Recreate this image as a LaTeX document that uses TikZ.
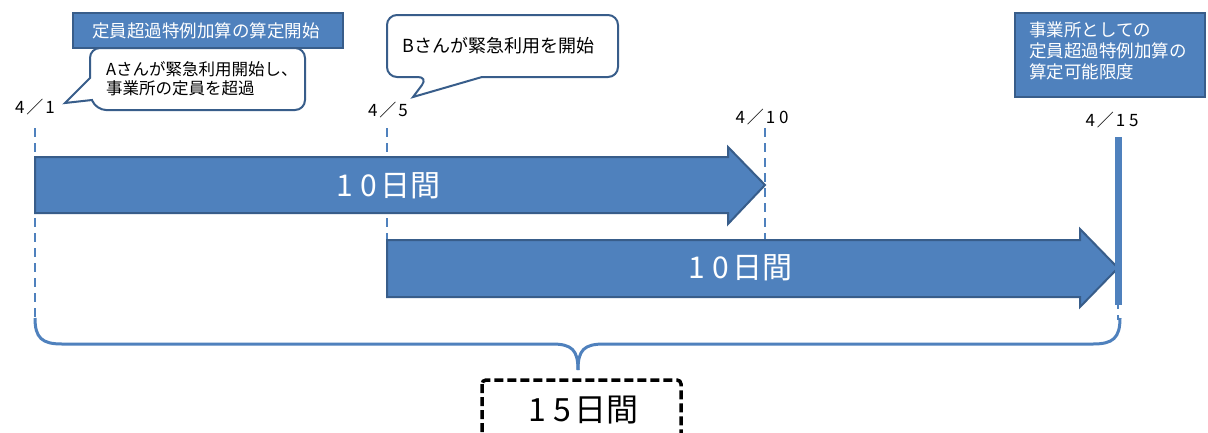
\documentclass[tikz,border=0pt]{standalone}
\usepackage{fontspec}
\setmainfont{Noto Sans CJK JP}
\definecolor{bfill}{HTML}{4F81BD}
\definecolor{bedge}{HTML}{385D8A}
\newcommand\tdig[1]{\makebox[0.78em]{#1}}
\tikzset{
  bluebox/.style={fill=bfill,draw=bedge,line width=2pt},
  callout/.style={fill=white,draw=bedge,line width=2pt},
  guide/.style={draw=bfill,line width=1.6pt,dash pattern=on 9pt off 6pt},
  datelbl/.style={font=\fontsize{17}{19}\selectfont,inner sep=0pt},
  arrowtxt/.style={font=\fontsize{30}{32}\selectfont,text=white,inner sep=0pt},
}
\begin{document}
\begin{tikzpicture}[x=1pt,y=-1pt]
\clip (0,0) rectangle (1208,432);
\fill[white] (0,0) rectangle (1208,432);
% guide lines
\coordinate (g1t) at (35,128);  \coordinate (g1b) at (35,318);
\coordinate (g2t) at (387,128); \coordinate (g2b) at (387,240);
\coordinate (g3t) at (765,128); \coordinate (g3b) at (765,240);
\coordinate (g4t) at (1118,300); \coordinate (g4b) at (1118,320);
\draw[guide] (g1t) -- (g1b);
\draw[guide] (g2t) -- (g2b);
\draw[guide] (g3t) -- (g3b);
\draw[guide] (g4t) -- (g4b);
% arrows
\draw[bluebox,line join=miter] (35,157) -- (728,157) -- (728,147) -- (765,185) -- (728,224) -- (728,213) -- (35,213) -- cycle;
\draw[bluebox,line join=miter] (387,240) -- (1080,240) -- (1080,229) -- (1118,268) -- (1080,307) -- (1080,297) -- (387,297) -- cycle;
\node[arrowtxt] (a1) at (387,186) {\tdig{1}\tdig{0}日間};
\node[arrowtxt] (a2) at (739,268) {\tdig{1}\tdig{0}日間};
% bar
\fill[bfill] (1114.5,137) rectangle (1121.5,305);
% dates
\node[datelbl] (d1) at (35,107) {\tdig{4}／\tdig{1}};
\node[datelbl] (d2) at (388,110) {\tdig{4}／\tdig{5}};
\node[datelbl] (d3) at (762,117) {\tdig{4}／\tdig{1}\tdig{0}};
\node[datelbl] (d4) at (1112,120) {\tdig{4}／\tdig{1}\tdig{5}};
% callout A
\draw[callout] [rounded corners=10pt] (90,78) -- (90,48) -- (305,48) -- (305,110) -- (96,110) [sharp corners] -- (92,100) -- (65,103) -- cycle;
\node[anchor=west,align=left,inner sep=0pt,font=\fontsize{16.5}{19}\selectfont] (ta) at (106,79) {Aさんが緊急利用開始し、\\事業所の定員を超過};
% top-left blue box
\draw[bluebox] (73,13) rectangle (343,48);
\node[text=white,inner sep=0pt,font=\fontsize{17.5}{20}\selectfont] (tb1) at (206,31) {定員超過特例加算の算定開始};
% callout B
\draw[callout] [rounded corners=10pt] (482,77) -- (618,77) -- (618,15) -- (387,15) -- (387,77) -- (428,77) [sharp corners] -- (413,97) -- cycle;
\node[anchor=west,inner sep=0pt,font=\fontsize{18}{20}\selectfont] (tbb) at (402,46) {Bさんが緊急利用を開始};
% right blue box
\draw[bluebox] (1015,13) rectangle (1205,97);
\node[anchor=north west,align=left,inner sep=0pt,text=white,font=\fontsize{17.5}{21}\selectfont] (tr) at (1029,22) {事業所としての\\定員超過特例加算の\\算定可能限度};
% brace
\coordinate (bl) at (35,318);
\coordinate (bm) at (578,370);
\coordinate (br) at (1120,318);
\draw[draw=bfill,line width=3pt] (bl) .. controls (35,338) and (42,344) .. (62,344) -- (552,344) .. controls (572,344) and (578,350) .. (bm);
\draw[draw=bfill,line width=3pt] (bm) .. controls (578,350) and (584,344) .. (604,344) -- (1093,344) .. controls (1113,344) and (1120,338) .. (br);
% dashed box
\draw[line width=3.5pt,dash pattern=on 9pt off 4pt,rounded corners=4pt] (482,380) rectangle (681,450);
\node[inner sep=0pt,font=\fontsize{32}{34}\selectfont] (t15) at (582,410) {\tdig{1}\tdig{5}日間};
\end{tikzpicture}
\end{document}
